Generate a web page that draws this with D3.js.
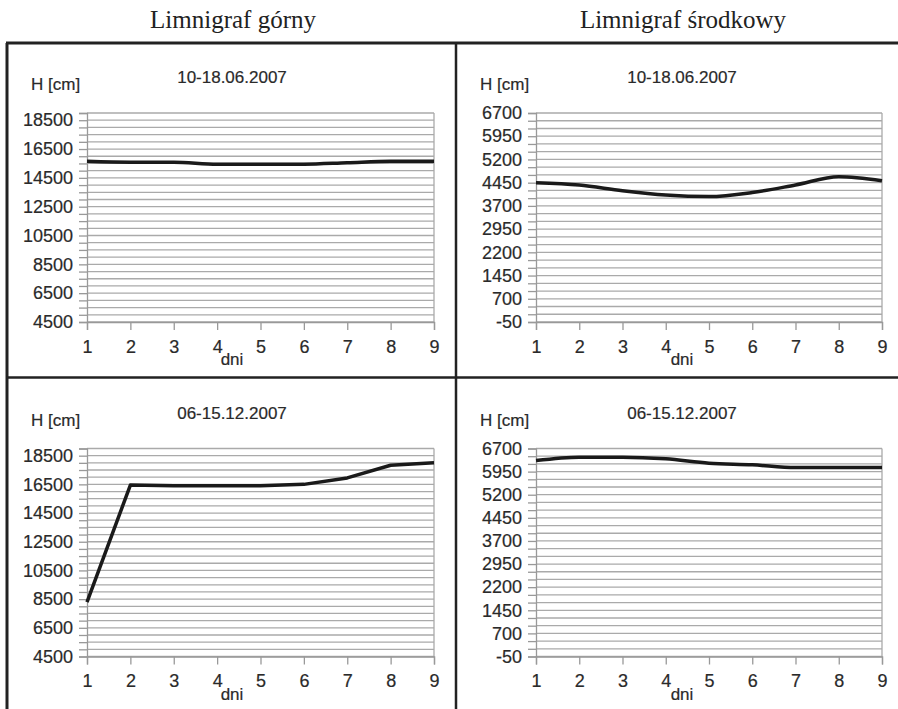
<!DOCTYPE html>
<html>
<head>
<meta charset="utf-8">
<script src="https://cdn.jsdelivr.net/npm/d3@7"></script>
<style>
  body { margin: 0; background: #fff; }
  svg { display: block; }
  .tick text, .lbl { font-family: "Liberation Sans", Arial, sans-serif; font-size: 17px; fill: #2a2a2a; stroke: #2a2a2a; stroke-width: 0.2px; }
  .tick text { font-size: 18px; }
</style>
</head>
<body>
<svg width="898" height="709"></svg>
<script>
// data
var days = [1, 2, 3, 4, 5, 6, 7, 8, 9];
var upperJune = [15650, 15590, 15590, 15450, 15450, 15450, 15550, 15650, 15650];
var middleJune = [4450, 4375, 4190, 4050, 4000, 4130, 4375, 4640, 4510];
var upperDec = [8290, 16450, 16400, 16400, 16400, 16500, 16950, 17830, 18000];
var middleDec = [6310, 6420, 6420, 6365, 6225, 6170, 6080, 6080, 6080];

var upperTicks = [4500, 6500, 8500, 10500, 12500, 14500, 16500, 18500];
var middleTicks = [-50, 700, 1450, 2200, 2950, 3700, 4450, 5200, 5950, 6700];

var columnTitles = ["Limnigraf górny", "Limnigraf środkowy"];
var periodTitles = ["10-18.06.2007", "06-15.12.2007"];

// layout
var colLeft = [87, 536], colRight = [434, 882], colCenter = [232, 682];
var rowTop = [113, 448.5], rowBottom = [322, 656.5];

var svg = d3.select("svg");

// outer frame
svg.append("line").attr("x1", 6).attr("x2", 898).attr("y1", 43).attr("y2", 43)
  .attr("stroke", "#222").attr("stroke-width", 3);
svg.append("line").attr("x1", 7).attr("x2", 7).attr("y1", 43).attr("y2", 709)
  .attr("stroke", "#222").attr("stroke-width", 3);
svg.append("line").attr("x1", 456).attr("x2", 456).attr("y1", 43).attr("y2", 709)
  .attr("stroke", "#222").attr("stroke-width", 2.5);
svg.append("line").attr("x1", 6).attr("x2", 898).attr("y1", 377.5).attr("y2", 377.5)
  .attr("stroke", "#222").attr("stroke-width", 2.5);

svg.selectAll(".coltitle")
  .data(columnTitles)
  .enter()
  .append("text")
  .attr("x", function(d, i) { return colCenter[i] + 1; })
  .attr("y", 28)
  .attr("text-anchor", "middle")
  .attr("font-family", "Liberation Serif, Times New Roman, serif")
  .attr("font-size", 25)
  .attr("fill", "#222")
  .text(function(d) { return d; });

var panels = [
  { col: 0, row: 0, values: upperJune, min: 4500, max: 19000, step: 500, labels: upperTicks, curve: d3.curveMonotoneX },
  { col: 1, row: 0, values: middleJune, min: -50, max: 6700, step: 250, labels: middleTicks, curve: d3.curveMonotoneX },
  { col: 0, row: 1, values: upperDec, min: 4500, max: 19000, step: 500, labels: upperTicks, curve: d3.curveLinear },
  { col: 1, row: 1, values: middleDec, min: -50, max: 6700, step: 250, labels: middleTicks, curve: d3.curveMonotoneX }
];

panels.forEach(function(p) {
  var left = colLeft[p.col], right = colRight[p.col];
  var top = rowTop[p.row], bottom = rowBottom[p.row];
  var cx = colCenter[p.col];

  var x = d3.scaleLinear().domain([1, 9]).range([left, right]);
  var y = d3.scaleLinear().domain([p.min, p.max]).range([bottom, top]);

  var g = svg.append("g");

  var grid = d3.range(p.min, p.max + p.step / 2, p.step);

  g.selectAll(".grid")
    .data(grid)
    .enter()
    .append("line")
    .attr("x1", left).attr("x2", right)
    .attr("y1", function(d) { return y(d); })
    .attr("y2", function(d) { return y(d); })
    .attr("stroke", "#aaa")
    .attr("stroke-width", 1.3);

  g.append("line")
    .attr("x1", right).attr("x2", right).attr("y1", top).attr("y2", bottom)
    .attr("stroke", "#aaa").attr("stroke-width", 1.3);

  var yAxis = d3.axisLeft(y)
    .tickValues(grid)
    .tickSize(8)
    .tickPadding(6)
    .tickFormat(function(d) { return p.labels.indexOf(d) >= 0 ? d : ""; });

  var yG = g.append("g")
    .attr("transform", "translate(" + left + ",0)")
    .call(yAxis);

  var xAxis = d3.axisBottom(x)
    .tickValues(days)
    .tickSize(8)
    .tickPadding(10)
    .tickFormat(d3.format("d"));

  var xG = g.append("g")
    .attr("transform", "translate(0," + bottom + ")")
    .call(xAxis);

  [yG, xG].forEach(function(a) {
    a.select(".domain").attr("stroke", "#999").attr("stroke-width", 1.3);
    a.selectAll(".tick line").attr("stroke", "#999").attr("stroke-width", 1.3);
  });

  var line = d3.line()
    .x(function(d, i) { return x(days[i]); })
    .y(function(d) { return y(d); })
    .curve(p.curve);

  g.append("path")
    .datum(p.values)
    .attr("d", line)
    .attr("fill", "none")
    .attr("stroke", "#1a1a1a")
    .attr("stroke-width", 3.5)
    .attr("stroke-linejoin", "round");

  g.append("text")
    .attr("class", "lbl")
    .attr("x", cx).attr("y", top - 30)
    .attr("text-anchor", "middle")
    .text(periodTitles[p.row]);

  g.append("text")
    .attr("class", "lbl")
    .attr("x", left - 56).attr("y", top - 23)
    .text("H [cm]");

  g.append("text")
    .attr("class", "lbl")
    .attr("x", cx).attr("y", bottom + 43)
    .attr("text-anchor", "middle")
    .text("dni");
});
</script>
</body>
</html>
